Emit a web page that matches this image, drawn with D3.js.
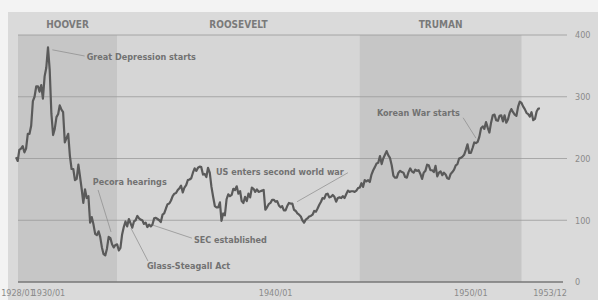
<!DOCTYPE html>
<html>
<head>
<meta charset="utf-8">
<script src="https://cdn.jsdelivr.net/npm/d3@7"></script>
<style>
  body { margin: 0; background: #f3f3f3; }
  text { font-family: "Liberation Sans Narrow", "DejaVu Sans Condensed", sans-serif; }
</style>
</head>
<body>
<div id="chart"></div>
<script>
// monthly closes, Jan 1928 - Dec 1953
var startYear = 1928;
var closes = [
  202, 196, 214, 216, 220, 210, 216, 240, 240, 253, 293, 300,
  317, 317, 308, 319, 297, 333, 347, 380, 343, 273, 238, 248,
  267, 272, 286, 279, 275, 226, 233, 240, 204, 183, 183, 165,
  167, 190, 172, 151, 128, 150, 136, 139, 96, 105, 93, 78,
  76, 82, 73, 56, 45, 43, 54, 73, 71, 61, 56, 60,
  61, 51, 55, 77, 89, 98, 90, 102, 95, 88, 98, 100,
  107, 103, 101, 100, 94, 96, 89, 93, 90, 93, 103, 104,
  102, 100, 97, 109, 111, 119, 126, 127, 132, 139, 143, 144,
  149, 152, 156, 145, 153, 157, 165, 166, 168, 177, 184, 180,
  185, 187, 186, 174, 175, 170, 185, 177, 154, 138, 123, 121,
  121, 129, 99, 111, 108, 134, 142, 139, 141, 151, 149, 155,
  143, 147, 131, 128, 138, 131, 143, 137, 153, 151, 146, 150,
  146, 147, 148, 149, 117, 121, 126, 128, 133, 133, 130, 131,
  124, 121, 123, 116, 116, 123, 128, 127, 127, 117, 115, 111,
  109, 106, 100, 96, 101, 103, 106, 107, 109, 115, 114, 119,
  125, 130, 136, 135, 142, 143, 137, 138, 141, 138, 130, 136,
  137, 136, 139, 136, 142, 148, 146, 147, 147, 146, 148, 152,
  153, 160, 154, 165, 163, 165, 162, 174, 181, 186, 192, 193,
  204, 191, 200, 206, 212, 205, 201, 189, 172, 169, 169, 177,
  180, 178, 177, 170, 169, 178, 184, 179, 177, 182, 180, 181,
  175, 167, 177, 180, 190, 189, 181, 181, 178, 188, 171, 177,
  179, 173, 177, 174, 168, 167, 175, 178, 182, 189, 191, 200,
  201, 203, 206, 214, 223, 209, 209, 217, 226, 225, 227, 235,
  249, 252, 248, 259, 250, 242, 258, 270, 271, 262, 261, 269,
  270, 260, 270, 258, 263, 274, 280, 275, 271, 269, 284, 292,
  290, 284, 280, 274, 272, 268, 275, 262, 264, 276, 281, 281
];

var presidents = ["HOOVER", "ROOSEVELT", "TRUMAN"];
var termStart = ["1928-01", "1933-01", "1945-01"];
var termEnd = ["1933-01", "1945-01", "1953-01"];

var yTicks = [0, 100, 200, 300, 400];
var xTickDates = ["1928-01", "1930-01", "1940-01", "1950-01", "1953-12"];
var xTickLabels = ["1928/01", "1930/01", "1940/01", "1950/01", "1953/12"];

// text: label; at: [date, value] of text start; from/to: leader ends [decimal year, value]
var annotations = [
  {text: "Great Depression starts", at: [1931.5, 360], from: [1929.8, 376], to: [1931.4, 366]},
  {text: "Pecora hearings", at: [1931.8, 157], from: [1932.06, 149], to: [1932.7, 81]},
  {text: "Glass-Steagall Act", at: [1934.48, 21], from: [1933.69, 87], to: [1934.53, 34]},
  {text: "SEC established", at: [1936.8, 63], from: [1934.78, 92], to: [1936.7, 71]},
  {text: "US enters second world war", at: [1937.89, 173], from: [1944.42, 177], to: [1941.9, 130]},
  {text: "Korean War starts", at: [1945.85, 269], from: [1950.11, 266], to: [1950.75, 233]}
];

var width = 598, height = 300;
var parse = d3.timeParse("%Y-%m");

var data = closes.map(function(v, i) {
  return {date: new Date(startYear + Math.floor(i / 12), i % 12, 1), value: v};
});

function yearDate(y) {
  var yr = Math.floor(y);
  var m = (y - yr) * 12;
  return new Date(yr, Math.floor(m), 1 + Math.round((m - Math.floor(m)) * 30));
}

var svg = d3.select("#chart").append("svg")
  .attr("width", width)
  .attr("height", height);

var x = d3.scaleTime()
  .domain([parse("1928-01"), parse("1953-12")])
  .range([16, 540]);

var y = d3.scaleLinear()
  .domain([0, 400])
  .range([282, 35]);

var plotLeft = 18, gridRight = 567;

// panel
svg.append("rect")
  .attr("x", 8).attr("y", 12)
  .attr("width", width - 8).attr("height", height - 12)
  .attr("fill", "#dadada");

// presidency shading
svg.selectAll(".term")
  .data(presidents)
  .enter().append("rect")
  .attr("x", function(d, i) { return i == 0 ? plotLeft : x(parse(termStart[i])); })
  .attr("y", y(400))
  .attr("width", function(d, i) { return x(parse(termEnd[i])) - (i == 0 ? plotLeft : x(parse(termStart[i]))); })
  .attr("height", y(0) - y(400))
  .attr("fill", function(d, i) { return i == 1 ? "#d6d6d6" : "#c6c6c6"; });

svg.selectAll(".pres")
  .data(presidents)
  .enter().append("text")
  .attr("x", function(d, i) {
    var a = i == 0 ? plotLeft : x(parse(termStart[i]));
    return (a + x(parse(termEnd[i]))) / 2;
  })
  .attr("y", 28)
  .attr("text-anchor", "middle")
  .attr("font-size", 10)
  .attr("font-weight", "bold")
  .attr("fill", "#7a7a7a")
  .text(function(d) { return d; });

// gridlines
svg.selectAll(".grid")
  .data(yTicks.slice(1))
  .enter().append("line")
  .attr("x1", plotLeft).attr("x2", gridRight)
  .attr("y1", function(d) { return y(d); })
  .attr("y2", function(d) { return y(d); })
  .attr("stroke", "#9a9a9a")
  .attr("stroke-width", 0.8);

svg.append("line")
  .attr("x1", plotLeft).attr("x2", 563)
  .attr("y1", y(0)).attr("y2", y(0))
  .attr("stroke", "#777")
  .attr("stroke-width", 1.5);

// right axis
var yAxis = svg.append("g")
  .attr("transform", "translate(" + gridRight + ",0)")
  .call(d3.axisRight(y).tickValues(yTicks).tickSize(0).tickPadding(8));
yAxis.select(".domain").remove();
yAxis.selectAll("text")
  .attr("font-size", 9)
  .attr("fill", "#8a8a8a")
  .style("font-family", "\"Liberation Sans Narrow\", \"DejaVu Sans Condensed\", sans-serif");

// bottom labels
var labelShift = [2, -8, 17, 10, 10];
svg.selectAll(".xlab")
  .data(xTickDates)
  .enter().append("text")
  .attr("x", function(d, i) { return x(parse(d)) + labelShift[i]; })
  .attr("y", 296)
  .attr("text-anchor", "middle")
  .attr("font-size", 9)
  .attr("fill", "#8a8a8a")
  .text(function(d, i) { return xTickLabels[i]; });

// leaders
svg.selectAll(".leader")
  .data(annotations)
  .enter().append("line")
  .attr("x1", function(d) { return x(yearDate(d.from[0])); })
  .attr("y1", function(d) { return y(d.from[1]); })
  .attr("x2", function(d) { return x(yearDate(d.to[0])); })
  .attr("y2", function(d) { return y(d.to[1]); })
  .attr("stroke", "#8a8a8a")
  .attr("stroke-width", 0.7);

// index line
var line = d3.line()
  .x(function(d) { return x(d.date); })
  .y(function(d) { return y(d.value); });

svg.append("path")
  .datum(data)
  .attr("fill", "none")
  .attr("stroke", "#5a5a5a")
  .attr("stroke-width", 2.2)
  .attr("stroke-linejoin", "round")
  .attr("d", line);

// annotation labels
svg.selectAll(".note")
  .data(annotations)
  .enter().append("text")
  .attr("x", function(d) { return x(yearDate(d.at[0])); })
  .attr("y", function(d) { return y(d.at[1]); })
  .attr("font-size", 9)
  .attr("font-weight", "bold")
  .attr("fill", "#727272")
  .text(function(d) { return d.text; });
</script>
</body>
</html>
